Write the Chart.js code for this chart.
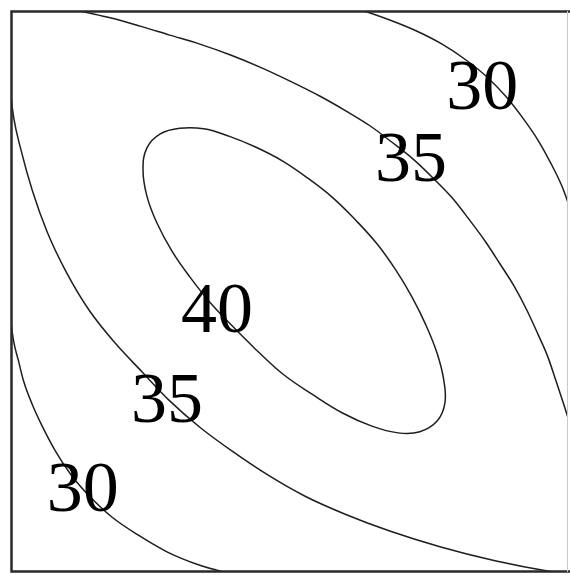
<!DOCTYPE html>
<html>
<head>
<meta charset="utf-8">
<script src="https://cdn.jsdelivr.net/npm/chart.js@4.4.0/dist/chart.umd.min.js"></script>
<style>
  html, body { margin: 0; padding: 0; background: #fff; }
  #wrap { width: 570px; height: 575px; }
</style>
</head>
<body>
<div id="wrap"><canvas id="c" width="570" height="575"></canvas></div>
<script>
// Contour level 30, upper-right branch
const level30UpperX = [6.18, 6.34, 6.80, 7.29, 7.74, 8.15, 8.55, 8.89, 9.19, 9.46, 9.69, 9.89, 10.05];
const level30UpperY = [10.05, 10.0, 9.84, 9.64, 9.41, 9.14, 8.82, 8.47, 8.09, 7.70, 7.29, 6.88, 6.45];

// Contour level 30, lower-left branch
const level30LowerX = [-0.02, 0.00, 0.05, 0.13, 0.23, 0.38, 0.56, 0.79, 1.08, 1.42, 1.81, 2.28, 2.80, 3.39, 3.97];
const level30LowerY = [4.76, 4.46, 4.10, 3.78, 3.39, 2.99, 2.60, 2.17, 1.73, 1.34, 0.98, 0.66, 0.36, 0.12, -0.04];

// Contour level 35, upper-right branch
const level35UpperX = [0.88, 1.24, 1.78, 2.32, 2.85, 3.39, 3.93, 4.47, 5.01, 5.55, 6.01, 6.45, 6.84, 7.22, 7.58, 7.92, 8.22, 8.51, 8.78, 9.03, 9.26, 9.46, 9.64, 9.78, 9.91, 10.04, 10.16];
const level35UpperY = [10.09, 10.0, 9.88, 9.73, 9.57, 9.41, 9.22, 9.00, 8.75, 8.48, 8.22, 7.95, 7.66, 7.36, 7.02, 6.67, 6.29, 5.90, 5.49, 5.10, 4.67, 4.24, 3.83, 3.42, 3.03, 2.62, 2.21];

// Contour level 35, lower-left branch
const level35LowerX = [-0.04, 0.00, 0.05, 0.18, 0.38, 0.65, 0.99, 1.40, 1.87, 2.35, 2.85, 3.39, 3.99, 4.61, 5.28, 6.00, 6.80, 7.70, 8.69, 9.73, 10.57];
const level35LowerY = [8.95, 8.48, 8.09, 7.52, 6.81, 6.06, 5.35, 4.67, 4.08, 3.57, 3.05, 2.58, 2.14, 1.73, 1.35, 1.03, 0.73, 0.45, 0.20, 0.00, -0.11];

// Contour level 40, closed loop
const level40X = [4.38, 3.97, 3.57, 3.21, 2.89, 2.62, 2.44, 2.37, 2.44, 2.68, 3.03, 3.46, 3.91, 4.38, 4.87, 5.33, 5.78, 6.19, 6.57, 6.91, 7.20, 7.45, 7.65, 7.77, 7.79, 7.65, 7.34, 6.95, 6.48, 5.96, 5.42, 4.88, 4.38];
const level40Y = [3.98, 4.39, 4.81, 5.26, 5.72, 6.22, 6.70, 7.17, 7.56, 7.81, 7.91, 7.90, 7.77, 7.58, 7.33, 7.02, 6.67, 6.27, 5.85, 5.38, 4.90, 4.40, 3.90, 3.42, 3.01, 2.69, 2.50, 2.48, 2.60, 2.83, 3.16, 3.53, 3.98];

// Inline contour labels
const labelTexts = ['30', '35', '40', '35', '30'];
const labelX = [8.46, 7.18, 3.70, 2.80, 1.29];
const labelY = [8.68, 7.40, 4.71, 3.10, 1.52];

const toPoints = (xs, ys) => xs.map((x, i) => ({ x, y: ys[i] }));

const lineStyle = {
  showLine: true,
  pointRadius: 0,
  pointHoverRadius: 0,
  borderColor: '#1e1e1e',
  borderWidth: 1.5,
  fill: false
};
// Open branches run left to right, so a monotone spline keeps them smooth
const openBranch = { ...lineStyle, cubicInterpolationMode: 'monotone' };
const closedLoop = { ...lineStyle, tension: 0.4 };

// Plot frame: dark on three sides, faint on the right edge
const frame = {
  id: 'frame',
  afterDraw(chart) {
    const { ctx, chartArea: a } = chart;
    ctx.save();
    ctx.strokeStyle = '#2a2a2a';
    ctx.lineWidth = 2.5;
    ctx.beginPath();
    ctx.moveTo(chart.width, a.top + 0.5);
    ctx.lineTo(a.left + 0.5, a.top + 0.5);
    ctx.lineTo(a.left + 0.5, a.bottom - 0.5);
    ctx.lineTo(chart.width, a.bottom - 0.5);
    ctx.stroke();
    ctx.strokeStyle = '#c8c8c8';
    ctx.lineWidth = 1;
    ctx.beginPath();
    ctx.moveTo(a.right - 0.5, a.top);
    ctx.lineTo(a.right - 0.5, a.bottom);
    ctx.stroke();
    ctx.restore();
  }
};

const contourLabels = {
  id: 'contourLabels',
  afterDatasetsDraw(chart) {
    const { ctx, scales } = chart;
    const size = 72;
    ctx.save();
    ctx.fillStyle = '#000';
    ctx.font = size + 'px "Liberation Serif", "Times New Roman", serif';
    ctx.textAlign = 'center';
    ctx.textBaseline = 'alphabetic';
    labelTexts.forEach((t, i) => {
      const px = scales.x.getPixelForValue(labelX[i]);
      const py = scales.y.getPixelForValue(labelY[i]);
      ctx.fillText(t, px, py + size * 0.338);
    });
    ctx.restore();
  }
};

new Chart(document.getElementById('c'), {
  type: 'scatter',
  data: {
    datasets: [
      { label: '30', data: toPoints(level30UpperX, level30UpperY), ...openBranch },
      { label: '30', data: toPoints(level30LowerX, level30LowerY), ...openBranch },
      { label: '35', data: toPoints(level35UpperX, level35UpperY), ...openBranch },
      { label: '35', data: toPoints(level35LowerX, level35LowerY), ...openBranch },
      { label: '40', data: toPoints(level40X, level40Y), ...closedLoop }
    ]
  },
  options: {
    responsive: false,
    animation: false,
    layout: { padding: { left: 11, top: 11, right: 2, bottom: 3 } },
    scales: {
      x: { type: 'linear', min: 0, max: 10, display: false },
      y: { type: 'linear', min: 0, max: 10, display: false }
    },
    plugins: {
      legend: { display: false },
      tooltip: { enabled: false }
    }
  },
  plugins: [frame, contourLabels]
});
</script>
</body>
</html>
